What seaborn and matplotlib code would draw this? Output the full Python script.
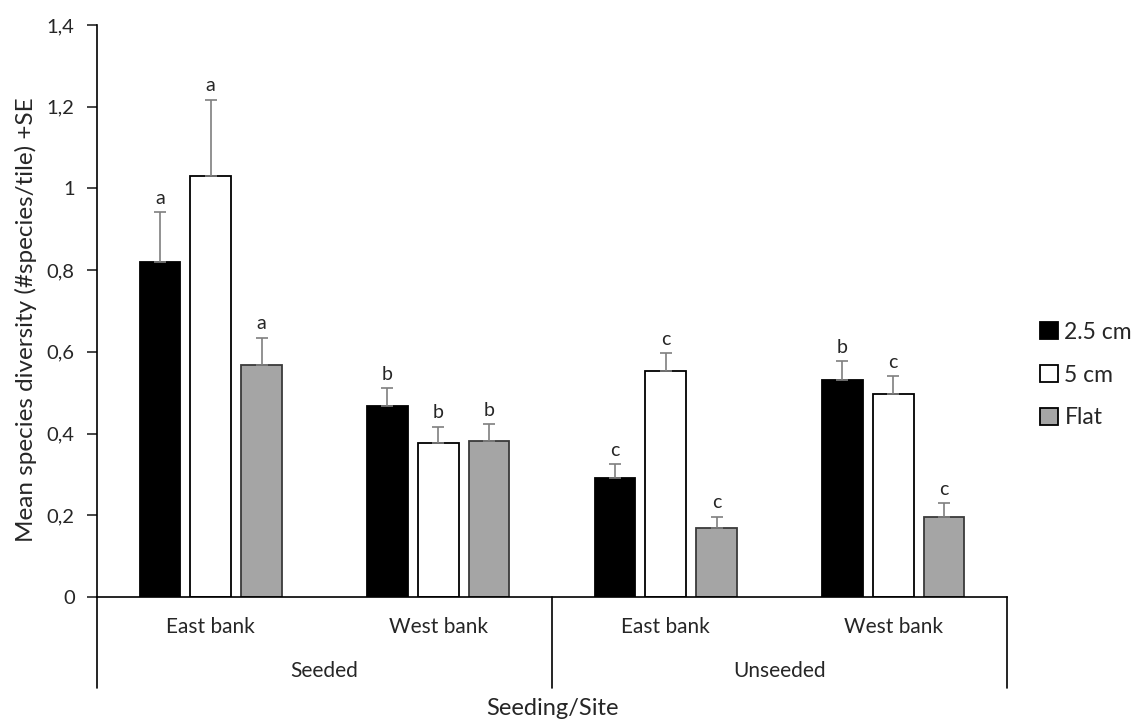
import numpy as np
import pandas as pd
import seaborn as sns
import matplotlib.pyplot as plt
import matplotlib.transforms as mtransforms

# data
seeding = ["Seeded", "Seeded", "Unseeded", "Unseeded"]
sites = ["East bank", "West bank", "East bank", "West bank"]
sizes = ["2.5 cm", "5 cm", "Flat"]

mean_25 = [0.82, 0.468, 0.292, 0.530]
mean_5 = [1.030, 0.377, 0.552, 0.497]
mean_flat = [0.569, 0.383, 0.168, 0.197]
se_25 = [0.122, 0.043, 0.033, 0.047]
se_5 = [0.187, 0.039, 0.044, 0.043]
se_flat = [0.065, 0.040, 0.029, 0.032]
letters_25 = ["a", "b", "c", "b"]
letters_5 = ["a", "b", "c", "c"]
letters_flat = ["a", "b", "c", "c"]

y_ticks = [0, 0.2, 0.4, 0.6, 0.8, 1.0, 1.2, 1.4]
y_tick_labels = ["0", "0,2", "0,4", "0,6", "0,8", "1", "1,2", "1,4"]

sns.set_style("ticks")
plt.rcParams['font.family'] = ['Lato', 'DejaVu Sans']

groups = [f"{a} {b}" for a, b in zip(seeding, sites)]
df = pd.DataFrame({
    "group": groups * 3,
    "size": np.repeat(sizes, len(groups)),
    "mean": mean_25 + mean_5 + mean_flat,
    "se": se_25 + se_5 + se_flat,
    "letter": letters_25 + letters_5 + letters_flat,
})

fig = plt.figure(figsize=(11.42, 7.2), dpi=100)
ax = fig.add_axes([0.0849, 0.1708, 0.7969, 0.7945])

colors = ["#000000", "#ffffff", "#a5a5a5"]
sns.barplot(data=df, x="group", y="mean", hue="size", order=groups, hue_order=sizes,
            palette=colors, width=0.67, gap=0.2, edgecolor="#000000", linewidth=1.3,
            errorbar=None, ax=ax)

# gray bars get a dark gray outline
for bar in ax.containers[2]:
    bar.set_edgecolor("#3a3a3a")

# upper error bars + letters
for cont, size in zip(ax.containers, sizes):
    sub = df[df["size"] == size].set_index("group").loc[groups]
    xs = [b.get_x() + b.get_width() / 2 for b in cont]
    hs = [b.get_height() for b in cont]
    ax.errorbar(xs, hs, yerr=[np.zeros(len(hs)), sub["se"].values], fmt="none",
                ecolor="#7f7f7f", elinewidth=1.2, capsize=4.5, capthick=1.2, zorder=1)
    for x, h, s, l in zip(xs, hs, sub["se"].values, sub["letter"].values):
        ax.annotate(l, (x, h + s), xytext=(0, 4), textcoords="offset points",
                    ha="center", va="bottom", fontsize=14, color="#262626")

ax.set_ylim(0, 1.4)
ax.set_xlim(-0.5, 3.5)
ax.set_yticks(y_ticks)
ax.set_yticklabels(y_tick_labels, fontsize=14.5, color="#262626")
ax.tick_params(axis="y", direction="out", length=7, width=1.2, pad=9)
ax.set_xticks([])
sns.despine(ax=ax, top=True, right=True)
for sp in ["left", "bottom"]:
    ax.spines[sp].set_linewidth(1.2)
    ax.spines[sp].set_color("#000000")

# hierarchical category axis
trans = mtransforms.blended_transform_factory(ax.transData, ax.transAxes)
for xv in [-0.5, 1.5, 3.5]:
    ax.plot([xv, xv], [0, -0.159], transform=trans, clip_on=False, color="#000000", lw=1.2)
for i, s in enumerate(sites):
    ax.text(i, -0.052, s, transform=trans, ha="center", va="center", fontsize=15, color="#262626")
for xv, s in [(0.5, "Seeded"), (2.5, "Unseeded")]:
    ax.text(xv, -0.129, s, transform=trans, ha="center", va="center", fontsize=15, color="#262626")

ax.set_xlabel("Seeding/Site", fontsize=17, color="#262626")
ax.xaxis.set_label_coords(0.5, -0.176)
ax.set_ylabel("Mean species diversity (#species/tile) +SE", fontsize=17.5, color="#262626")
ax.yaxis.set_label_coords(-0.066, 0.484)

sns.move_legend(ax, "center left", bbox_to_anchor=(0.893, 0.479), bbox_transform=fig.transFigure,
                frameon=False, title=None, fontsize=16.5, handlelength=0.75, handleheight=0.75,
                handletextpad=0.3, labelspacing=0.95)
for t in ax.get_legend().get_texts():
    t.set_color("#262626")

fig.savefig("out.png", dpi=100)
